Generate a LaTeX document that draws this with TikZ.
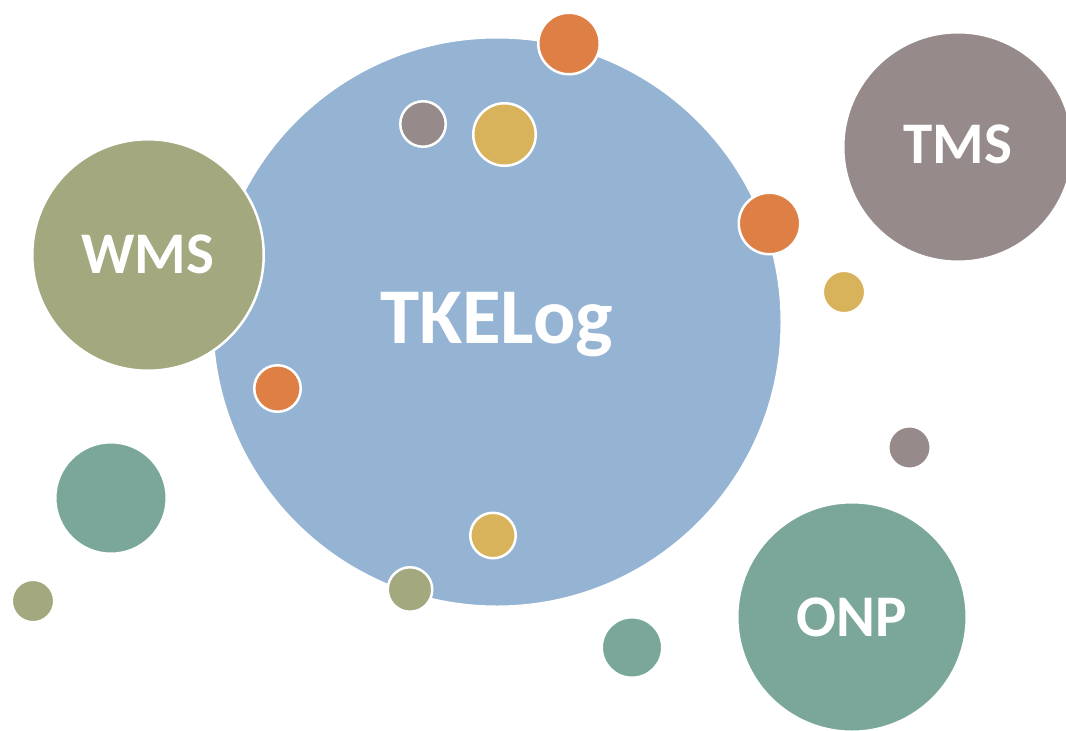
\documentclass[tikz,border=0pt]{standalone}
\usepackage{fontspec}
\setmainfont{Carlito}
\definecolor{cblue}{HTML}{95B3D3}
\definecolor{colive}{HTML}{A3A87E}
\definecolor{cgray}{HTML}{968B8A}
\definecolor{cteal}{HTML}{7BA79B}
\definecolor{corange}{HTML}{DE7F45}
\definecolor{cyellow}{HTML}{D9B35C}
\tikzset{
  bubble/.style 2 args={circle, fill=#1, draw=white, line width=2.5pt, inner sep=0pt, minimum size=#2*2pt-2.5pt},
  label text/.style={text=white, font=\bfseries\fontsize{#1}{#1}\selectfont, anchor=base, inner sep=0pt}
}
\begin{document}
\begin{tikzpicture}[x=1pt,y=-1pt]
\useasboundingbox (0,0) rectangle (1066,731);
\clip (0,0) rectangle (1066,731);
% main
\node[bubble={cblue}{286}] (main) at (497,322) {};
\node[bubble={colive}{117}] (wms) at (148,255) {};
\node[bubble={cgray}{116}] (tms) at (958,147) {};
\node[bubble={cteal}{116}] (onp) at (852,617) {};
% small bubbles
\node[bubble={corange}{32}] (o1) at (569,43.5) {};
\node[bubble={cgray}{24}] (g1) at (423,124) {};
\node[bubble={cyellow}{32.5}] (y1) at (504.5,134.5) {};
\node[bubble={corange}{32}] (o2) at (769.5,223.5) {};
\node[bubble={cyellow}{22.5}] (y2) at (844,292) {};
\node[bubble={cgray}{22.5}] (g2) at (909.5,447.5) {};
\node[bubble={corange}{24.5}] (o3) at (277.5,388.5) {};
\node[bubble={cyellow}{24}] (y3) at (493,535.5) {};
\node[bubble={colive}{23.5}] (ol1) at (410,589.5) {};
\node[bubble={cteal}{57}] (t1) at (111,498) {};
\node[bubble={colive}{22.5}] (ol2) at (33,601) {};
\node[bubble={cteal}{31.5}] (t2) at (632,647.5) {};
% labels
\node[label text=79] (lmain) at (496.5,343) {TKELog};
\node[label text=59] (lwms) at (148,273) {WMS};
\node[label text=59] (ltms) at (958,163) {TMS};
\node[label text=59] (lonp) at (852,636) {ONP};
\end{tikzpicture}
\end{document}
